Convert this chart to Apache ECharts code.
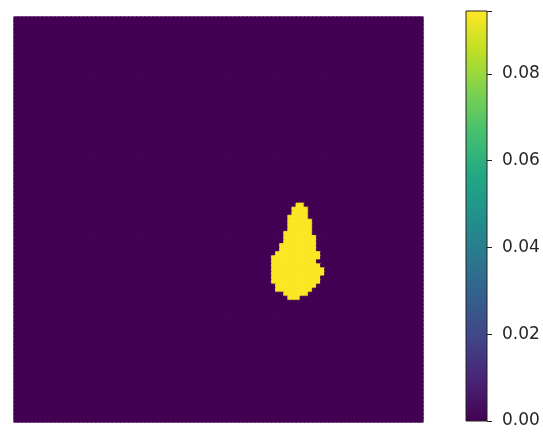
<!DOCTYPE html>
<html>
<head>
<meta charset="utf-8">
<script src="https://cdn.jsdelivr.net/npm/echarts@6/dist/echarts.min.js"></script>
<style>
html,body{margin:0;padding:0;background:#fff;}
#chart{width:543px;height:442px;}
</style>
</head>
<body>
<div id="chart"></div>
<script>
// Grid size of the image (rows x cols)
var nRows = 100;
var nCols = 100;
// Value of the background and of the blob
var backgroundValue = 0.0;
var blobValue = 0.0945;
// Blob rows: [row, firstCol, lastCol]
var blobRows = [
  [46, 69, 70],
  [47, 68, 71],
  [48, 68, 71],
  [49, 67, 71],
  [50, 67, 72],
  [51, 67, 72],
  [52, 67, 72],
  [53, 66, 72],
  [54, 66, 73],
  [55, 66, 73],
  [56, 65, 73],
  [57, 65, 73],
  [58, 64, 74],
  [59, 63, 74],
  [60, 63, 73],
  [61, 63, 74],
  [62, 63, 75],
  [63, 63, 75],
  [64, 63, 74],
  [65, 63, 74],
  [66, 64, 73],
  [67, 64, 72],
  [68, 66, 71],
  [69, 67, 69]
];
// Colorbar range and ticks
var cbMin = 0.0;
var cbMax = 0.0945;
var cbTicks = [0.00, 0.02, 0.04, 0.06, 0.08];

var viridis = ['#440154','#482475','#414487','#355f8d','#2a788e','#21918c','#22a884','#44bf70','#7ad151','#bddf26','#fde725'];

var xCats = [], yCats = [];
for (var i = 0; i < nCols; i++) xCats.push(i);
for (var j = 0; j < nRows; j++) yCats.push(j);

var grid = [];
for (var r = 0; r < nRows; r++) { grid.push(new Array(nCols).fill(backgroundValue)); }
blobRows.forEach(function (b) {
  for (var c = b[1]; c <= b[2]; c++) grid[b[0]][c] = blobValue;
});
function edgeColor(v) {
  var t = (v - cbMin) / (cbMax - cbMin);
  var k = Math.max(0, Math.min(viridis.length - 1, Math.round(t * (viridis.length - 1))));
  return viridis[k];
}
var heatData = [];
for (var r2 = 0; r2 < nRows; r2++) {
  for (var c2 = 0; c2 < nCols; c2++) {
    var v = grid[r2][c2];
    heatData.push({ value: [c2, r2, v], itemStyle: { borderColor: edgeColor(v), borderWidth: 0.8 } });
  }
}

var stops = viridis.map(function (col, k) { return { offset: 1 - k / (viridis.length - 1), color: col }; });

var chart = echarts.init(document.getElementById('chart'), null, { renderer: 'canvas' });
chart.setOption({
  animation: false,
  backgroundColor: '#ffffff',
  grid: [
    { left: 14, top: 17, width: 409, height: 405, show: true, backgroundColor: viridis[0], borderWidth: 0 },
    { left: 466, top: 11, width: 21, height: 410, show: true, borderColor: '#222', borderWidth: 1, z: 10 }
  ],
  xAxis: [
    { type: 'category', data: xCats, gridIndex: 0, show: false },
    { type: 'category', data: ['cb'], gridIndex: 1, show: false }
  ],
  yAxis: [
    { type: 'category', data: yCats, gridIndex: 0, show: false, inverse: true },
    {
      type: 'value', gridIndex: 1, min: cbMin, max: cbMax, interval: 0.02, position: 'right',
      axisLine: { show: false },
      axisTick: { show: true, length: 5, lineStyle: { color: '#222', width: 1 } },
      splitLine: { show: false },
      axisLabel: {
        show: true, margin: 15, color: '#262626', fontSize: 17, fontFamily: 'DejaVu Sans',
        formatter: function (v) { return cbTicks.some(function (t) { return Math.abs(t - v) < 1e-9; }) ? v.toFixed(2) : ''; }
      }
    }
  ],
  visualMap: {
    show: false, type: 'continuous', min: cbMin, max: cbMax, seriesIndex: 0, dimension: 2,
    inRange: { color: viridis }
  },
  series: [
    {
      type: 'heatmap', xAxisIndex: 0, yAxisIndex: 0, data: heatData, progressive: 0
    },
    {
      type: 'bar', xAxisIndex: 1, yAxisIndex: 1, data: [cbMax], barWidth: '100%', silent: true,
      itemStyle: { color: new echarts.graphic.LinearGradient(0, 0, 0, 1, stops) }
    }
  ]
});
</script>
</body>
</html>
